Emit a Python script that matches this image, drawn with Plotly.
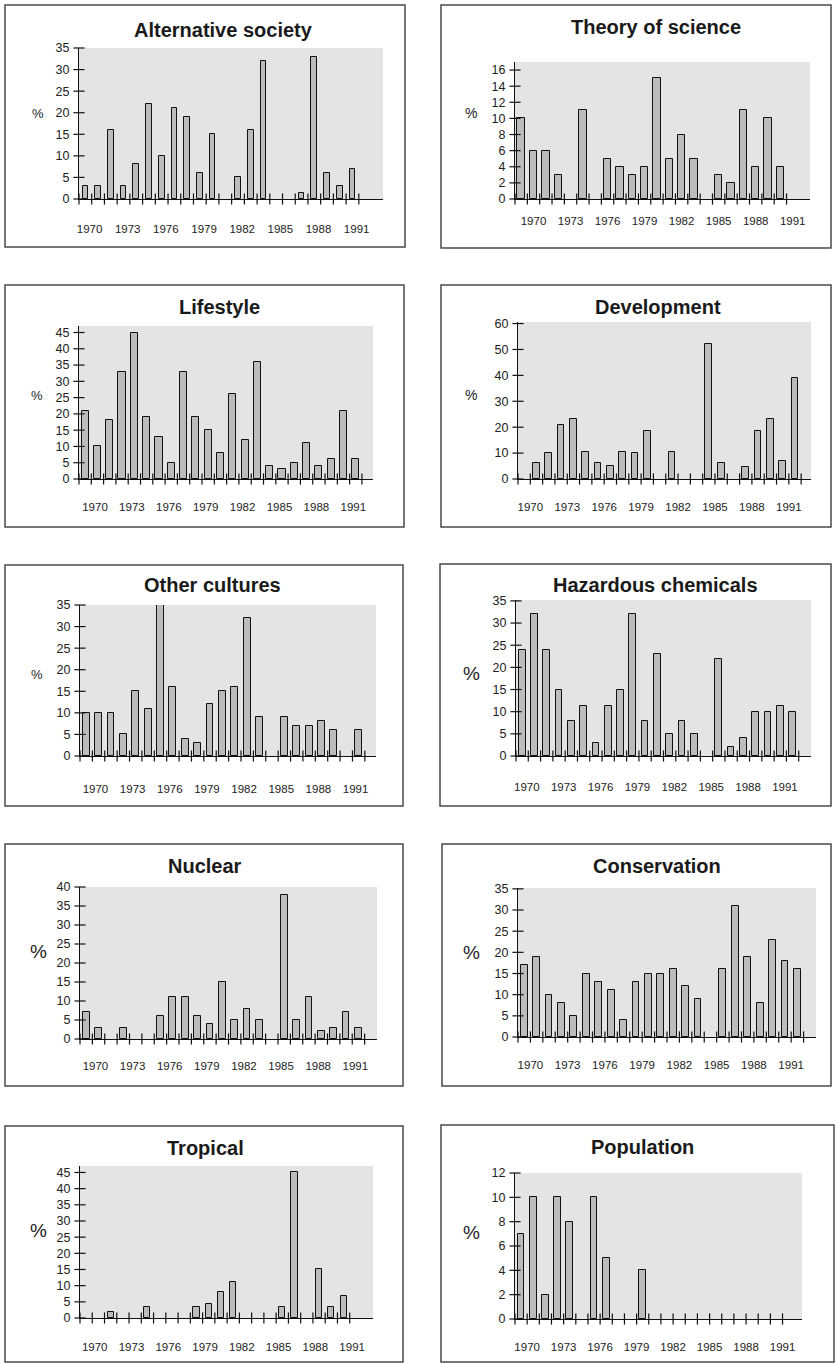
import plotly.graph_objects as go

W, H = 835, 1363

# ---------------- data ----------------
label_years = [1970, 1973, 1976, 1979, 1982, 1985, 1988, 1991]

alt_start = 1970
alt_values = [3, 3, 16, 3, 8, 22, 10, 21, 19, 6, 15, 0, 5, 16, 32, 0, 0, 1.5, 33, 6, 3, 7]

theory_start = 1969
theory_values = [10, 6, 6, 3, 0, 11, 0, 5, 4, 3, 4, 15, 5, 8, 5, 0, 3, 2, 11, 4, 10, 4]

lifestyle_start = 1969
lifestyle_values = [21, 10, 18, 33, 45, 19, 13, 5, 33, 19, 15, 8, 26, 12, 36, 4, 3, 5, 11, 4, 6, 21, 6]

development_start = 1969
development_values = [0, 6, 10, 21, 23, 10.5, 6, 5, 10.5, 10, 18.5, 0, 10.5, 0, 0, 52, 6, 0, 4.5, 18.5, 23, 7, 39]

other_start = 1969
other_values = [10, 10, 10, 5, 15, 11, 35, 16, 4, 3, 12, 15, 16, 32, 9, 0, 9, 7, 7, 8, 6, 0, 6]

hazardous_start = 1969
hazardous_values = [24, 32, 24, 15, 8, 11.3, 3, 11.3, 15, 32, 8, 23, 5, 8, 5, 0, 22, 2, 4, 10, 10, 11.3, 10]

nuclear_start = 1969
nuclear_values = [7, 3, 0, 3, 0, 0, 6, 11, 11, 6, 4, 15, 5, 8, 5, 0, 38, 5, 11, 2, 3, 7, 3]

conservation_start = 1969
conservation_values = [17, 19, 10, 8, 5, 15, 13, 11, 4, 13, 15, 15, 16, 12, 9, 0, 16, 31, 19, 8, 23, 18, 16]

tropical_start = 1969
tropical_values = [0, 0, 2, 0, 0, 3.3, 0, 0, 0, 3.3, 4.2, 8, 11, 0, 0, 0, 3.3, 45, 0, 15, 3.3, 6.7]

population_start = 1969
population_values = [7, 10, 2, 10, 8, 0, 10, 5, 0, 0, 4, 0, 0, 0, 0, 0, 0, 0, 0, 0, 0, 0]

titles = ["Alternative society", "Theory of science", "Lifestyle", "Development",
          "Other cultures", "Hazardous chemicals", "Nuclear", "Conservation",
          "Tropical", "Population"]

# ---------------- layout / style per panel (window pixel positions) ----------------
panels = [
    dict(start=alt_start, vals=alt_values, box=(5, 5, 405, 247), plot=(79, 48, 383, 199),
         title=(223, 30), pct=(38, 113, 13), ymax=35, dtick=5, span=23.9, loff=0.33, ldist=31, bw=0.45),
    dict(start=theory_start, vals=theory_values, box=(441, 5, 831, 248), plot=(515, 62, 810, 199),
         title=(656, 27), pct=(471, 113, 14), ymax=17, dtick=2, span=23.9, loff=0.0, ldist=23, bw=0.6),
    dict(start=lifestyle_start, vals=lifestyle_values, box=(5, 285, 404, 527), plot=(79, 326, 373, 479),
         title=(219, 307), pct=(37, 395, 13), ymax=47, dtick=5, span=23.9, loff=-0.2, ldist=29, bw=0.58),
    dict(start=development_start, vals=development_values, box=(441, 285, 831, 527), plot=(518, 322, 811, 479),
         title=(658, 307), pct=(471, 395, 14), ymax=60.6, dtick=10, span=23.8, loff=-0.5, ldist=29, bw=0.55),
    dict(start=other_start, vals=other_values, box=(5, 565, 403, 806), plot=(80, 605, 376, 756),
         title=(212, 585), pct=(37, 674, 13), ymax=35, dtick=5, span=23.9, loff=-0.25, ldist=34, bw=0.55),
    dict(start=hazardous_start, vals=hazardous_values, box=(440, 564, 831, 806), plot=(516, 600, 811, 756),
         title=(655, 585), pct=(471, 673, 19), ymax=35.2, dtick=5, span=24.0, loff=-0.62, ldist=32, bw=0.55),
    dict(start=nuclear_start, vals=nuclear_values, box=(5, 844, 403, 1086), plot=(80, 887, 377, 1039),
         title=(205, 866), pct=(38, 951, 19), ymax=40, dtick=5, span=24.0, loff=-0.25, ldist=28, bw=0.55),
    dict(start=conservation_start, vals=conservation_values, box=(442, 844, 831, 1086), plot=(518, 888, 816, 1037),
         title=(657, 866), pct=(471, 953, 19), ymax=35.2, dtick=5, span=24.0, loff=-0.5, ldist=29, bw=0.55),
    dict(start=tropical_start, vals=tropical_values, box=(5, 1126, 403, 1362), plot=(80, 1166, 373, 1318),
         title=(205, 1148), pct=(38, 1230, 19), ymax=47, dtick=5, span=23.9, loff=-0.3, ldist=30, bw=0.5),
    dict(start=population_start, vals=population_values, box=(441, 1125, 834, 1362), plot=(515, 1173, 802, 1319),
         title=(642, 1147), pct=(471, 1232, 19), ymax=12, dtick=2, span=23.6, loff=-0.5, ldist=29, bw=0.55),
]


def px(x):
    return x / W


def py(y):
    return 1 - y / H


FONT = "Liberation Sans, Arial, sans-serif"
fig = go.Figure()
shapes = []
annotations = []
layout_axes = {}

for i, p in enumerate(panels):
    n = i + 1
    xa = "x" if n == 1 else f"x{n}"
    ya = "y" if n == 1 else f"y{n}"
    xkey = "xaxis" if n == 1 else f"xaxis{n}"
    ykey = "yaxis" if n == 1 else f"yaxis{n}"
    years = [p["start"] + k for k in range(len(p["vals"]))]
    x0 = p["start"] - 0.5
    x1 = x0 + p["span"]
    shown = [v if v else None for v in p["vals"]]

    fig.add_trace(go.Bar(x=years, y=shown, width=p["bw"], xaxis=xa, yaxis=ya,
                         marker=dict(color="#bcbcbc", line=dict(color="#111", width=1)),
                         showlegend=False, hoverinfo="x+y"))
    # x tick marks at slot boundaries (crossing the axis)
    bounds = [y - 0.5 for y in years] + [years[-1] + 0.5]
    fig.add_trace(go.Scatter(x=bounds, y=[0] * len(bounds), mode="markers", xaxis=xa, yaxis=ya,
                             marker=dict(symbol="line-ns", size=8, line=dict(color="#111", width=1.2)),
                             cliponaxis=False, showlegend=False, hoverinfo="skip"))
    # y tick marks crossing the axis
    yt = []
    v = 0
    while v <= p["ymax"] + 1e-9:
        yt.append(v)
        v += p["dtick"]
    fig.add_trace(go.Scatter(x=[x0] * len(yt), y=yt, mode="markers", xaxis=xa, yaxis=ya,
                             marker=dict(symbol="line-ew", size=8, line=dict(color="#111", width=1.2)),
                             cliponaxis=False, showlegend=False, hoverinfo="skip"))

    L, T, R, B = p["plot"]
    layout_axes[xkey] = dict(
        domain=[px(L), px(R)], range=[x0, x1], anchor=ya, automargin=False,
        tickmode="array", tickvals=[y + p["loff"] for y in label_years],
        ticktext=[str(y) for y in label_years], ticks="", showgrid=False, zeroline=False,
        showline=True, linecolor="#111", linewidth=1.2,
        tickfont=dict(family=FONT, size=11.5, color="#222"),
        ticklabelstandoff=p["ldist"] - 12,
    )
    layout_axes[ykey] = dict(
        domain=[py(B), py(T)], range=[0, p["ymax"]], anchor=xa, automargin=False,
        tickmode="array", tickvals=yt, ticks="", showgrid=False, zeroline=False,
        showline=True, linecolor="#111", linewidth=1.2,
        tickfont=dict(family=FONT, size=12.5, color="#222"),
        ticklabelstandoff=6,
    )
    shapes.append(dict(type="rect", xref=f"{xa} domain", yref=f"{ya} domain",
                       x0=0, x1=1, y0=0, y1=1, fillcolor="#e4e4e6", line=dict(width=0), layer="below"))
    bx0, by0, bx1, by1 = p["box"]
    shapes.append(dict(type="rect", xref="paper", yref="paper",
                       x0=px(bx0), x1=px(bx1), y0=py(by1), y1=py(by0),
                       line=dict(color="#4a4a4a", width=1.5), fillcolor="rgba(0,0,0,0)"))
    tx, ty = p["title"]
    annotations.append(dict(text=f"<b>{titles[i]}</b>", xref="paper", yref="paper",
                            x=px(tx), y=py(ty), xanchor="center", yanchor="middle",
                            showarrow=False, font=dict(family=FONT, size=20, color="#1a1a1a")))
    pcx, pcy, ps = p["pct"]
    annotations.append(dict(text="%", xref="paper", yref="paper",
                            x=px(pcx), y=py(pcy), xanchor="center", yanchor="middle",
                            showarrow=False, font=dict(family=FONT, size=ps, color="#222")))

fig.update_layout(width=W, height=H, margin=dict(l=0, r=0, t=0, b=0, autoexpand=False),
                  paper_bgcolor="white", plot_bgcolor="rgba(0,0,0,0)",
                  shapes=shapes, annotations=annotations, bargap=0,
                  font=dict(family=FONT), **layout_axes)

# remove the browser's default 8px body margin so the figure fills the window exactly
fig.write_html("out.html", config={"displayModeBar": False},
               post_script="document.body.style.margin='0';document.body.style.overflow='hidden';")
